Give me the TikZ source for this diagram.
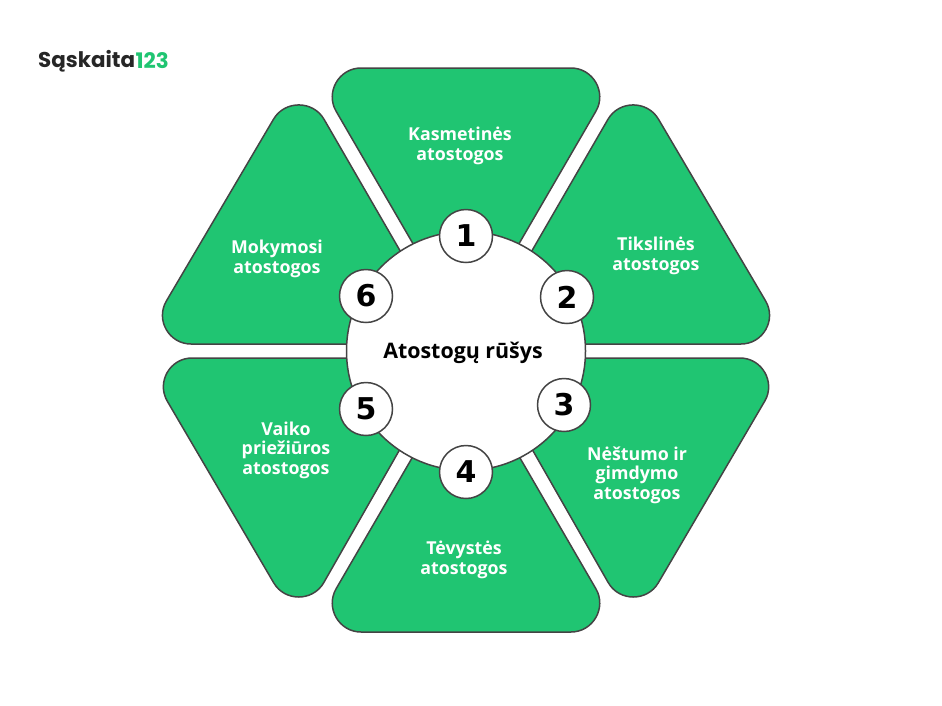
\documentclass[tikz,border=0pt]{standalone}
\usepackage{fontspec}
\usetikzlibrary{calc}
\setmainfont{Open Sans}
\newfontfamily\logofont{Poppins}
\newfontfamily\numfont{DejaVu Sans}
\definecolor{leafgreen}{RGB}{32,197,114}
\definecolor{edgegray}{RGB}{68,68,68}
% apex, then the two outer corners
\newcommand{\wedgepath}[3]{(#1) -- ($(#2)!50pt!(#1)$) .. controls ($(#2)!28pt!(#1)$) and ($(#2)!28pt!(#3)$) .. ($(#2)!50pt!(#3)$)
  -- ($(#3)!50pt!(#2)$) .. controls ($(#3)!28pt!(#2)$) and ($(#3)!28pt!(#1)$) .. ($(#3)!50pt!(#1)$) -- cycle}
\tikzset{
  wedge/.style={draw=edgegray, fill=leafgreen, line width=1.5pt},
  wedgetext/.style={text=white, align=center, font=\fontsize{17.8}{19.5}\selectfont\bfseries},
  numdisc/.style={circle, draw=edgegray, fill=white, line width=1.5pt, minimum size=53pt, inner sep=0pt,
    font=\fontsize{30}{30}\selectfont\numfont\bfseries}
}
\begin{document}
\begin{tikzpicture}[x=1pt, y=-1pt]
    \useasboundingbox (0,0) rectangle (942,705);
    \draw[wedge] \wedgepath{466,335}{311,68}{621,68};
    \draw[wedge] \wedgepath{478,344}{633,76}{791,344};
    \draw[wedge] \wedgepath{480,358}{790,358}{633,626};
    \draw[wedge] \wedgepath{466,365}{621,632}{311,632};
    \draw[wedge] \wedgepath{452,358}{299,626}{142,358};
    \draw[wedge] \wedgepath{454,344}{141,344}{299,76};
    \draw[edgegray, fill=white, line width=1.5pt] (466,351) circle (119.5);
    \node[numdisc] (n1) at (466,236) {1};
    \node[numdisc] (n2) at (567,297) {2};
    \node[numdisc] (n3) at (564,405) {3};
    \node[numdisc] (n4) at (466,472) {4};
    \node[numdisc] (n5) at (366,409) {5};
    \node[numdisc] (n6) at (366,296) {6};
    \node[wedgetext] (t1) at (460,146) {Kasmetinės\\atostogos};
    \node[wedgetext] (t2) at (656,256) {Tikslinės\\atostogos};
    \node[wedgetext] (t3) at (637,475) {Nėštumo ir\\gimdymo\\atostogos};
    \node[wedgetext] (t4) at (464,560) {Tėvystės\\atostogos};
    \node[wedgetext] (t5) at (286,450) {Vaiko\\priežiūros\\atostogos};
    \node[wedgetext] (t6) at (277,259) {Mokymosi\\atostogos};
    \node[font=\fontsize{21.4}{22}\selectfont\bfseries] (title) at (463,353) {Atostogų rūšys};
    \node[anchor=west, inner sep=0pt, font=\fontsize{21.4}{22}\selectfont\logofont\bfseries, text=black!85] (logo) at (38,61) {Sąskaita};
    \node[anchor=west, inner sep=0pt, font=\fontsize{21.4}{22}\selectfont\logofont\bfseries, text=leafgreen] (logonum) at (logo.east) {123};
\end{tikzpicture}
\end{document}
